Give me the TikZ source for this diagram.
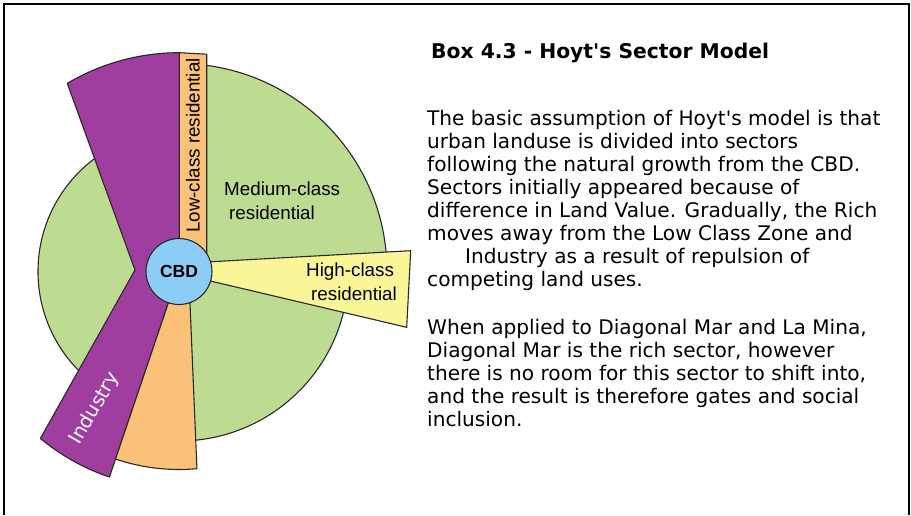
\documentclass[tikz,border=0pt]{standalone}
\usepackage{fontspec}
\setmainfont{DejaVu Sans}
\newfontfamily\arialf{Liberation Sans}
\definecolor{mygreen}{RGB}{190,220,145}
\definecolor{mypurple}{RGB}{160,62,160}
\definecolor{myorange}{RGB}{250,194,120}
\definecolor{myyellow}{RGB}{250,245,150}
\definecolor{myblue}{RGB}{140,205,245}
\definecolor{edge}{RGB}{40,40,40}
\begin{document}
\begin{tikzpicture}[x=1pt,y=1pt,
  zone/.style={draw=edge, line width=1.1pt, line join=round},
  lbl/.style={font=\arialf\fontsize{18.8}{20}\selectfont, inner sep=0pt, anchor=base west},
  body/.style={font=\fontsize{20.1}{23}\selectfont, inner sep=0pt, anchor=base west}]
\useasboundingbox (0,0) rectangle (911,-515);
\fill[white] (0,0) rectangle (911,-515);
\draw[line width=1.8pt] (3.8,-515) -- (3.8,-4) -- (909,-4) -- (909,-515);
\begin{scope}[shift={(179,-271.5)}]
 \filldraw[zone, fill=mygreen] (0,0) circle[radius=141];
 \filldraw[zone, fill=mygreen] (0,0) -- (85:208) arc[start angle=85, end angle=3, radius=208] -- cycle;
 \filldraw[zone, fill=mygreen] (0,0) -- (-10:169.5) arc[start angle=-10, end angle=-95, radius=169.5] -- cycle;
 \filldraw[zone, fill=mypurple] (0.3,0) -- (0.3,218.8) arc[start angle=89.92, end angle=120.7, radius=218.8] -- (-44,1.5) -- (230.3:217) arc[start angle=230.3, end angle=251.3, radius=217] -- (0,0) -- cycle;
 \filldraw[zone, fill=myorange] (0.3,0) -- (0.3,218.8) -- (27.7,217.3) -- (27.7,0) -- cycle;
 \filldraw[zone, fill=myorange] (0,0) -- (251.3:198) arc[start angle=251.3, end angle=275.2, radius=198] -- (10.7,-25) -- cycle;
 \filldraw[zone, fill=myyellow] (0,8) -- (231.7,20.8) -- (227.7,-55.8) -- (0,-2.1) -- cycle;
 \node[circle, draw=edge, line width=1.1pt, fill=myblue, minimum size=66pt, inner sep=0pt, font=\arialf\bfseries\fontsize{17.5}{17.5}\selectfont] (cbd) at (0,0) {CBD};
\end{scope}
\node[lbl] (med1) at (224,-195) {Medium-class};
\node[lbl] (med2) at (229,-219.3) {residential};
\node[lbl] (hi1) at (306,-276) {High-class};
\node[lbl] (hi2) at (311,-300.7) {residential};
\node[font=\arialf\fontsize{18.8}{20}\selectfont, rotate=90, inner sep=0pt] (low) at (193,-145.5) {Low-class residential};
\node[font=\fontsize{19.5}{19.5}\selectfont, text=white, rotate=60, inner sep=0pt] (ind) at (95,-408.5) {Industry};
\node[body, font=\bfseries\fontsize{20.3}{23}\selectfont] (title) at (431,-58.3) {Box 4.3 - Hoyt\textquotesingle s Sector Model};
\node[body] (p1) at (427,-125) {The basic assumption of Hoyt\textquotesingle s model is that};
\node[body] (p2) at (427,-148.1) {urban landuse is divided into sectors};
\node[body] (p3) at (427,-171.2) {following the natural growth from the CBD.};
\node[body] (p4) at (427,-194.3) {Sectors initially appeared because of};
\node[body] (p5) at (427,-217.4) {difference in Land Value. Gradually, the Rich};
\node[body] (p6) at (427,-240.5) {moves away from the Low Class Zone and};
\node[body] (p7) at (465,-263.6) {Industry as a result of repulsion of};
\node[body] (p8) at (427,-286.7) {competing land uses.};
\node[body] (q1) at (427,-334) {When applied to Diagonal Mar and La Mina,};
\node[body] (q2) at (427,-357.2) {Diagonal Mar is the rich sector, however};
\node[body] (q3) at (427,-380.4) {there is no room for this sector to shift into,};
\node[body] (q4) at (427,-403.6) {and the result is therefore gates and social};
\node[body] (q5) at (427,-426.8) {inclusion.};
\end{tikzpicture}
\end{document}
